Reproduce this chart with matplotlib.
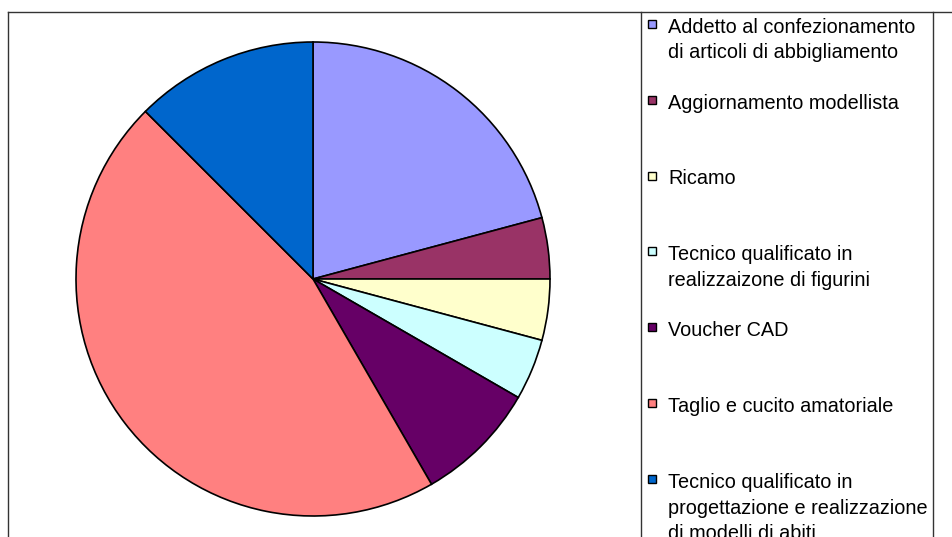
import matplotlib

matplotlib.use("Agg")
import matplotlib.pyplot as plt
from matplotlib.lines import Line2D
from matplotlib.patches import Rectangle

W, H = 953, 537

labels = [
    "Addetto al confezionamento\ndi articoli di abbigliamento",
    "Aggiornamento modellista",
    "Ricamo",
    "Tecnico qualificato in\nrealizzaizone di figurini",
    "Voucher CAD",
    "Taglio e cucito amatoriale",
    "Tecnico qualificato in\nprogettazione e realizzazione\ndi modelli di abiti",
]
counts = [5, 1, 1, 1, 2, 11, 3]
colors = ["#9999FF", "#993366", "#FFFFCC", "#CCFFFF", "#660066", "#FF8080", "#0066CC"]

plt.rcParams["font.family"] = ["Liberation Sans", "DejaVu Sans"]

fig = plt.figure(figsize=(W / 100, H / 100), dpi=100)


def fx(px):
    return px / W


def fy(py):
    return 1 - py / H


# pie centred at (313, 279) px, radius 237 px
cx, cy, r = 313, 279, 237
ax = fig.add_axes([fx(cx - r), fy(cy + r), 2 * r / W, 2 * r / H])
ax.pie(
    counts,
    colors=colors,
    startangle=90,
    counterclock=False,
    wedgeprops={"edgecolor": "black", "linewidth": 1.2},
)
ax.set_xlim(-1, 1)
ax.set_ylim(-1, 1)
ax.set_aspect("equal")
ax.axis("off")

# frame lines (chart area and legend box, cropped)
line_kw = {"color": "#333333", "lw": 1.0, "transform": fig.transFigure}
fig.add_artist(Line2D([fx(8), fx(8)], [fy(12), 0], **line_kw))
fig.add_artist(Line2D([fx(8), 1], [fy(12), fy(12)], **line_kw))
fig.add_artist(Line2D([fx(641), fx(641)], [fy(12), 0], **line_kw))
fig.add_artist(Line2D([fx(933), fx(933)], [fy(12), 0], **line_kw))

# legend entries: first baseline at 32.7 px, step 75.9 px, line gap 25.5 px
for i, (label, color) in enumerate(zip(labels, colors)):
    base = 32.7 + 75.9 * i
    fig.add_artist(
        Rectangle(
            (fx(648.5), fy(base - 5)),
            8 / W,
            8 / H,
            facecolor=color,
            edgecolor="black",
            lw=1.0,
            transform=fig.transFigure,
        )
    )
    for j, line in enumerate(label.split("\n")):
        fig.text(fx(668), fy(base + 25.5 * j), line, fontsize=14.3,
                 va="baseline", ha="left", color="black")

fig.savefig("out.png", dpi=100)
